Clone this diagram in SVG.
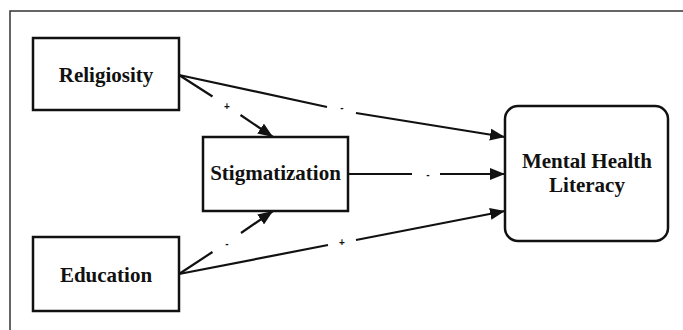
<svg xmlns="http://www.w3.org/2000/svg" width="683" height="330" viewBox="0 0 683 330">
<style>
.box{fill:#fff;stroke:#111;stroke-width:2.5}
.lbl{font-family:"Liberation Serif","Times New Roman",serif;font-weight:bold;font-size:21px;fill:#111;text-anchor:middle}
.edge{fill:none;stroke:#111;stroke-width:2.2}
.sign{font-family:"Liberation Sans",Arial,sans-serif;font-weight:bold;font-size:10px;fill:#111;text-anchor:middle}
</style>
<defs>
<marker id="ah" markerUnits="userSpaceOnUse" markerWidth="16" markerHeight="12" viewBox="0 0 16 12" refX="15" refY="6" orient="auto">
<path d="M0,0 L15,6 L0,12 Z" fill="#111"/>
</marker>
</defs>
<rect width="683" height="330" fill="#fff"/>
<path d="M10,340 L10,11 L690,11" fill="none" stroke="#333" stroke-width="1.5"/>
<g id="connectors">
<path class="edge" d="M179,75 L327,107 M356,113 L505,137" marker-end="url(#ah)"/>
<path class="edge" d="M179,75 L212.5,96.5 M240.5,115 L273,137" marker-end="url(#ah)"/>
<path class="edge" d="M348,174 L412,174 M440,174 L505,174" marker-end="url(#ah)"/>
<path class="edge" d="M179,274 L212.5,252 M241,233 L273,211" marker-end="url(#ah)"/>
<path class="edge" d="M179,274 L328,245 M356,240 L505,211" marker-end="url(#ah)"/>
<text class="sign" x="227" y="110">+</text>
<text class="sign" x="342" y="111">-</text>
<text class="sign" x="428" y="178">-</text>
<text class="sign" x="227" y="247">-</text>
<text class="sign" x="342" y="246">+</text>
</g>
<g id="religiosity">
<rect class="box" x="33" y="38" width="146" height="72"/>
<text class="lbl" x="106" y="82">Religiosity</text>
</g>
<g id="stigmatization">
<rect class="box" x="203" y="137" width="145" height="74"/>
<text class="lbl" x="275.5" y="180">Stigmatization</text>
</g>
<g id="education">
<rect class="box" x="33" y="237" width="146" height="74"/>
<text class="lbl" x="106" y="282">Education</text>
</g>
<g id="mhl">
<rect class="box" x="505" y="106" width="163" height="135" rx="13" ry="13"/>
<text class="lbl" x="587" y="168">Mental Health</text>
<text class="lbl" x="587" y="192">Literacy</text>
</g>
</svg>
